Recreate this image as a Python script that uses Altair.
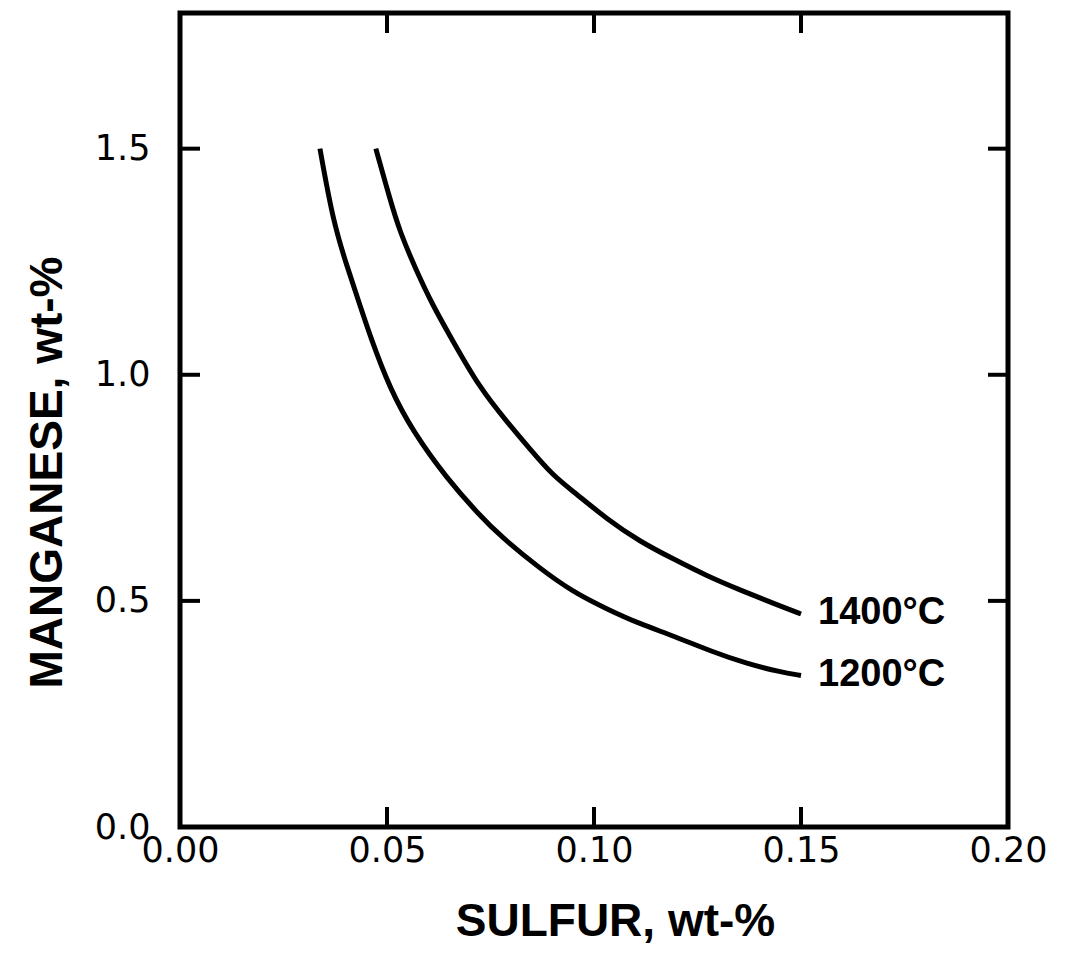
import altair as alt
import pandas as pd

# Curve data
s1200 = [0.0338, 0.0370, 0.0403, 0.0435, 0.0459, 0.0507, 0.0563, 0.0645, 0.0725, 0.0773,
         0.0870, 0.0949, 0.1031, 0.1111, 0.1191, 0.1287, 0.1370, 0.1449, 0.1500]
mn1200 = [1.500, 1.338, 1.241, 1.153, 1.086, 0.969, 0.874, 0.770, 0.688, 0.644,
          0.571, 0.520, 0.482, 0.449, 0.423, 0.387, 0.361, 0.343, 0.335]

s1400 = [0.0473, 0.0507, 0.0531, 0.0572, 0.0611, 0.0652, 0.0725, 0.0790, 0.0845, 0.0901,
         0.0954, 0.1031, 0.1111, 0.1191, 0.1273, 0.1353, 0.1449, 0.1500]
mn1400 = [1.500, 1.389, 1.316, 1.228, 1.153, 1.086, 0.969, 0.896, 0.836, 0.777,
          0.739, 0.681, 0.631, 0.593, 0.555, 0.524, 0.489, 0.471]

series_names = ["1200°C", "1400°C"]

x_ticks = [0.05, 0.10, 0.15]
y_ticks = [0.5, 1.0, 1.5]
x_labels = [0.0, 0.05, 0.10, 0.15, 0.20]
y_labels = [0.0, 0.5, 1.0, 1.5]

W, H = 828, 814
TICK = 20

rows = []
for s, m in zip(s1200, mn1200):
    rows.append({"S": s, "Mn": m, "T": series_names[0]})
for s, m in zip(s1400, mn1400):
    rows.append({"S": s, "Mn": m, "T": series_names[1]})
df = pd.DataFrame(rows)

ends = pd.DataFrame({
    "S": [s1200[-1], s1400[-1]],
    "Mn": [mn1200[-1], mn1400[-1]],
    "T": series_names,
})

xscale = alt.Scale(domain=[0, 0.2], nice=False, zero=False)
yscale = alt.Scale(domain=[0, 1.8], nice=False, zero=False)

xaxis = alt.Axis(
    values=x_labels, format=".2f", ticks=False, domain=False, grid=False,
    labelFont="DejaVu Sans", labelFontSize=35, labelColor="black", labelPadding=6,
    labelFlush=False,
    title="SULFUR, wt-%", titleFont="Liberation Sans", titleFontSize=46,
    titleFontWeight="bold", titleColor="black",
    titleX=435, titleY=94, titleBaseline="middle", titleAlign="center",
)
yaxis = alt.Axis(
    values=y_labels, format=".1f", ticks=False, domain=False, grid=False,
    labelFont="DejaVu Sans", labelFontSize=35, labelColor="black", labelPadding=30,
    labelFlush=False,
    title="MANGANESE, wt-%", titleFont="Liberation Sans", titleFontSize=46,
    titleFontWeight="bold", titleColor="black",
    titleX=-133, titleY=459, titleBaseline="middle", titleAlign="center", titleAngle=-90,
)

lines = alt.Chart(df).mark_line(color="black", strokeWidth=5, interpolate="basis").encode(
    x=alt.X("S:Q", scale=xscale, axis=xaxis),
    y=alt.Y("Mn:Q", scale=yscale, axis=yaxis),
    detail="T:N",
)

labels = alt.Chart(ends).mark_text(
    align="left", baseline="middle", dx=17, dy=-1,
    font="Liberation Sans", fontWeight="bold", fontSize=38, color="black",
).encode(x=alt.X("S:Q", scale=xscale), y=alt.Y("Mn:Q", scale=yscale), text="T:N")

xt = pd.DataFrame({"v": x_ticks})
yt = pd.DataFrame({"v": y_ticks})

bottom_ticks = alt.Chart(xt).mark_rule(color="black", strokeWidth=4).encode(
    x=alt.X("v:Q", scale=xscale), y=alt.value(H), y2=alt.value(H - TICK))
top_ticks = alt.Chart(xt).mark_rule(color="black", strokeWidth=4).encode(
    x=alt.X("v:Q", scale=xscale), y=alt.value(0), y2=alt.value(TICK))
left_ticks = alt.Chart(yt).mark_rule(color="black", strokeWidth=4).encode(
    y=alt.Y("v:Q", scale=yscale), x=alt.value(0), x2=alt.value(TICK))
right_ticks = alt.Chart(yt).mark_rule(color="black", strokeWidth=4).encode(
    y=alt.Y("v:Q", scale=yscale), x=alt.value(W), x2=alt.value(W - TICK))

chart = alt.layer(lines, labels, bottom_ticks, top_ticks, left_ticks, right_ticks).properties(
    width=W, height=H,
    autosize=alt.AutoSizeParams(type="none"),
    padding={"left": 172, "top": 5, "right": 40, "bottom": 130},
    background="white",
).configure_view(stroke="black", strokeWidth=5)

chart.save("out.html", embed_options={"renderer": "svg", "actions": False})
